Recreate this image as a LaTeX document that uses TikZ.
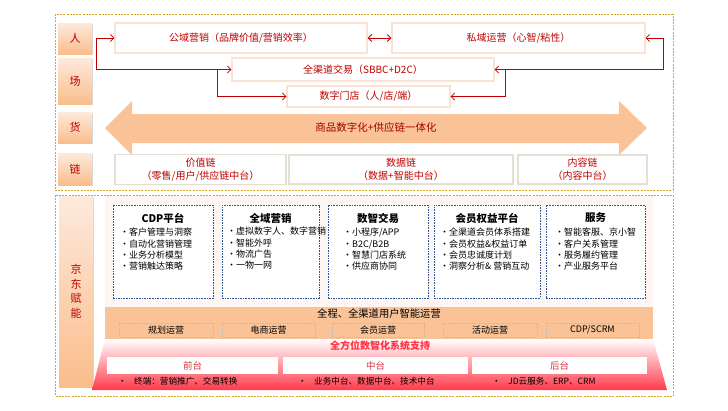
\documentclass[tikz,border=0pt]{standalone}
\usepackage{fontspec}
\setmainfont{Noto Sans CJK SC}
\usetikzlibrary{arrows.meta,shadows}
\definecolor{jdred}{HTML}{C00000}
\definecolor{gold}{HTML}{D2A52B}
\definecolor{tagtop}{HTML}{FDEADC}
\definecolor{tagbot}{HTML}{FABD8C}
\definecolor{peach}{HTML}{F9C397}
\definecolor{pinkbg}{HTML}{FEF6F2}
\definecolor{boxline}{HTML}{FBE2D2}
\definecolor{chainline}{HTML}{E4E0D5}
\definecolor{dashblue}{HTML}{2F5597}
\definecolor{sysred}{HTML}{FF3A4A}
\definecolor{bandgrey}{HTML}{C9B7A6}
\newcommand{\fs}[2]{\fontsize{#1}{#2}\selectfont}
\newcommand{\itm}[1]{\makebox[9pt][l]{•}#1}
\newcommand{\bitm}[1]{\makebox[16pt][l]{•}#1}
\begin{document}
\begin{tikzpicture}[x=1pt, y=-1pt,
  frame/.style = {draw=gold, line width=0.9pt, dash pattern=on 2pt off 1.2pt},
  tag/.style = {top color=tagtop, bottom color=tagbot, minimum width=34, text=jdred,
    font=\fs{11}{14.5}, align=center,
    drop shadow={shadow xshift=1.2pt, shadow yshift=-1.2pt, opacity=0.3}},
  topbox/.style = {draw=boxline, line width=1.1pt, fill=white, text=jdred, font=\fs{10}{11}},
  chain/.style = {draw=chainline, line width=1.3pt, fill=white, text=jdred, font=\fs{10}{13},
    align=center, minimum height=29},
  link/.style = {draw=jdred, line width=0.8pt, -{Straight Barb[length=3.5pt,width=7pt]}},
  blue/.style = {draw=dashblue, line width=0.8pt, dash pattern=on 1.6pt off 1pt, fill=white,
    minimum height=93},
  btitle/.style = {font=\bfseries\fs{10.5}{12}},
  blist/.style = {anchor=north west, inner sep=0pt, align=left, font=\fs{9}{11.3}},
  opbox/.style = {draw=bandgrey, dash pattern=on 1.2pt off 1pt, line width=0.5pt,
    minimum height=14, inner sep=1pt, font=\fs{9}{10}},
  sysbox/.style = {fill=white, minimum height=17, inner sep=1pt, text=sysred!85!black, font=\fs{9.5}{10}},
  bnote/.style = {anchor=west, inner sep=0pt, font=\fs{8.6}{10}}]
\fill[white] (0,0) rectangle (728,410);
\useasboundingbox (0,0) rectangle (728,410);

\draw[frame] (55,14) rectangle (673,190);
\node[tag, minimum height=31] (ren)  at (75,38.5)  {人};
\node[tag, minimum height=46] (chang) at (75,81)   {场};
\node[tag, minimum height=31] (huo)  at (75,127.5) {货};
\node[tag, minimum height=32] (lian) at (75,169)   {链};

\node[topbox, minimum width=252, minimum height=30] (gy) at (241,38) {公域营销（品牌价值/营销效率）};
\node[topbox, minimum width=253, minimum height=30] (sy) at (518.5,38) {私域运营（心智/粘性）};
\node[topbox, minimum width=262, minimum height=23, inner sep=1pt] (qqd) at (363,69.5) {全渠道交易（SBBC+D2C）};
\node[topbox, minimum width=163, minimum height=21, inner sep=1pt] (szmd) at (368.5,96.5) {数字门店（人/店/端）};

\draw[link, {Straight Barb[length=3.5pt,width=7pt]}-{Straight Barb[length=3.5pt,width=7pt]}, line width=1pt] (gy) -- (sy);
\coordinate (lj) at (96,69.5);
\coordinate (lb) at (217,69.5);
\coordinate (rj) at (663,69.5);
\coordinate (rb) at (505,69.5);
\draw[link] (lj) |- (gy.west);
\draw[link] (lj) -- (qqd.west);
\draw[link] (lb) |- (szmd.west);
\draw[link] (rj) |- (sy.east);
\draw[link] (rj) -- (qqd.east);
\draw[link] (rb) |- (szmd.east);

\fill[peach] (105,128) -- (132,101) -- (132,114) -- (619,114) -- (619,101) -- (647,128)
  -- (619,155) -- (619,143) -- (132,143) -- (132,155) -- cycle;
\node[text=jdred!85!black, font=\fs{10.5}{11}] (goods) at (376,128) {商品数字化+供应链一体化};

\node[chain, minimum width=171] (jzl) at (200.5,169.5) {价值链\\（零售/用户/供应链中台）};
\node[chain, minimum width=224] (sjl) at (401,169.5) {数据链\\（数据+智能中台）};
\node[chain, minimum width=129] (nrl) at (582.5,169.5) {内容链\\（内容中台）};

\draw[frame] (55,195) rectangle (673,396);
\node[tag, minimum height=191] (jd) at (76,291.5) {京\\东\\赋\\能};
\fill[pinkbg] (105,196) rectangle (653,307);

\node[blue, minimum width=100] (cdp) at (163,251.5) {};
\node[blue, minimum width=97]  (qy)  at (270.5,251.5) {};
\node[blue, minimum width=100] (sz)  at (378,251.5) {};
\node[blue, minimum width=106] (hy)  at (487,251.5) {};
\node[blue, minimum width=99]  (fw)  at (595.5,251.5) {};
\node[btitle] at (cdp |- 0,218) {CDP平台};
\node[btitle] at (qy |- 0,218)  {全域营销};
\node[btitle] at (sz |- 0,218)  {数智交易};
\node[btitle] at (hy |- 0,218)  {会员权益平台};
\node[btitle] at (fw |- 0,218)  {服务};
\node[blist] at (120,228) {\itm{客户管理与洞察}\\\itm{自动化营销管理}\\\itm{业务分析模型}\\\itm{营销触达策略}};
\node[blist] at (227,227) {\itm{虚拟数字人、数字营销}\\\itm{智能外呼}\\\itm{物流广告}\\\itm{一物一网}};
\node[blist] at (343,228) {\itm{小程序/APP}\\\itm{B2C/B2B}\\\itm{智慧门店系统}\\\itm{供应商协同}};
\node[blist] at (440,228) {\itm{全渠道会员体系搭建}\\\itm{会员权益\&权益订单}\\\itm{会员忠诚度计划}\\\itm{洞察分析\& 营销互动}};
\node[blist] at (555,228) {\itm{智能客服、京小智}\\\itm{客户关系管理}\\\itm{服务履约管理}\\\itm{产业服务平台}};

\fill[peach] (105,307) rectangle (653,339);
\node[font=\fs{10.3}{11}, inner sep=1pt] (band) at (379,313.5) {全程、全渠道用户智能运营};
\node[opbox, minimum width=94] (ghyy) at (166,330) {规划运营};
\node[opbox, minimum width=93] (dsyy) at (268.5,330) {电商运营};
\node[opbox, minimum width=92] (hyyy) at (378,330) {会员运营};
\node[opbox, minimum width=94] (hdyy) at (490,330) {活动运营};
\node[opbox, minimum width=93] (scrm) at (592.5,330) {CDP/SCRM};

\shade[top color=white, bottom color=sysred] (105,339) -- (653,339) -- (667,390) -- (92,390) -- cycle;
\node[text=sysred!90!red, font=\bfseries\fs{10}{11}, inner sep=1pt] (sys) at (380,346) {全方位数智化系统支持};
\node[sysbox, minimum width=171] (qt) at (192.5,365.5) {前台};
\node[sysbox, minimum width=185] (zt) at (375.5,365.5) {中台};
\node[sysbox, minimum width=175] (ht) at (559.5,365.5) {后台};
\node[bnote] at (118,381.5) {\bitm{终端：营销推广、交易转换}};
\node[bnote] at (298,381.5) {\bitm{业务中台、数据中台、技术中台}};
\node[bnote] at (492,381.5) {\bitm{JD云服务、ERP、CRM}};
\end{tikzpicture}
\end{document}
